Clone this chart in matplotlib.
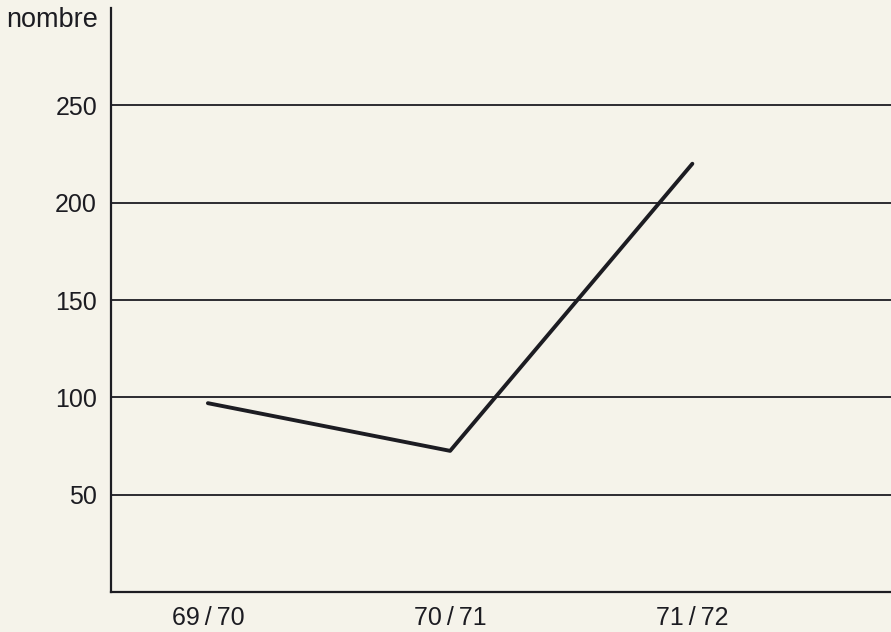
"""Line chart: nombre per school year."""

import matplotlib.pyplot as plt

years = ['69\u2009/\u200970', '70\u2009/\u200971', '71\u2009/\u200972']
nombre = [97, 72.5, 220]
y_ticks = [50, 100, 150, 200, 250]

bg = '#f5f3ea'
ink = '#1c1c22'

plt.rcParams['font.family'] = ['Liberation Sans', 'DejaVu Sans']

fig = plt.figure(figsize=(8.91, 6.32), dpi=100, facecolor=bg)
ax = fig.add_axes([111 / 891, 1 - 592 / 632, 1 - 111 / 891, 584 / 632])
ax.set_facecolor(bg)

x = list(range(len(years)))
ax.plot(x, nombre, color=ink, linewidth=2.8, solid_capstyle='round', zorder=3)

for v in y_ticks:
    ax.axhline(v, color=ink, linewidth=1.3, zorder=2)

ax.set_xlim(-0.4, 2.82)
ax.set_ylim(0, 300)
ax.set_xticks(x)
ax.set_xticklabels(years)
ax.set_yticks(y_ticks)
ax.tick_params(length=0, labelsize=18, colors=ink, pad=10)
ax.tick_params(axis='x', pad=10)

for side in ['top', 'right']:
    ax.spines[side].set_visible(False)
for side in ['left', 'bottom']:
    ax.spines[side].set_color(ink)
    ax.spines[side].set_linewidth(1.6)

fig.text(98 / 891, 1 - 20 / 632, 'nombre', ha='right', va='center', fontsize=19.5, color=ink)

fig.savefig('out.png', dpi=100, facecolor=bg)
